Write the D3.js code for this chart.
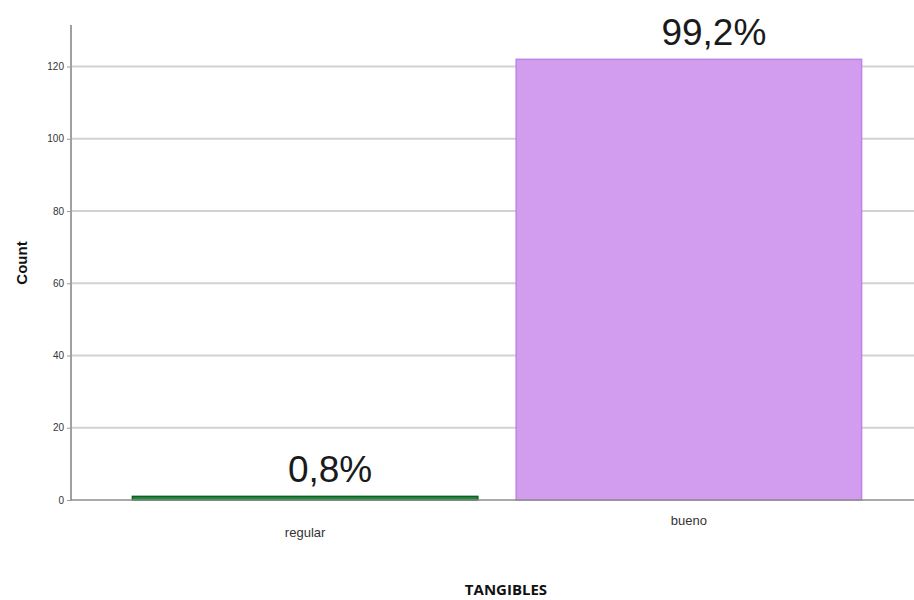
<!DOCTYPE html>
<html>
<head>
<meta charset="utf-8">
<script src="https://cdn.jsdelivr.net/npm/d3@7"></script>
<style>
  html, body { margin: 0; padding: 0; background: #fff; }
  svg { display: block; }
</style>
</head>
<body>
<svg id="chart" width="914" height="600"></svg>
<script>
// Frequency of TANGIBLES ratings
const categories = ["regular", "bueno"];
const counts = [1, 122];
const percentLabels = ["0,8%", "99,2%"];
const barColors = ["#1f8a3b", "#d29cef"];
const barStrokes = ["#0f5f24", "#c183e6"];
const yTicks = [0, 20, 40, 60, 80, 100, 120];
const yMax = 131.5;

const svg = d3.select("#chart");
const axisX = 71, baseY = 500, topY = 25;

const y = d3.scaleLinear().domain([0, yMax]).range([baseY, topY]);
const x = d3.scaleBand().domain(categories).range([71, 923]).paddingInner(0.1).paddingOuter(0.16);

// horizontal gridlines
svg.append("g").selectAll("line").data(yTicks.filter(d => d > 0)).join("line")
  .attr("x1", axisX).attr("x2", 914)
  .attr("y1", d => y(d)).attr("y2", d => y(d))
  .attr("stroke", "#d2d2d2").attr("stroke-width", 2);

// y axis ticks and labels
const yAxis = d3.axisLeft(y).tickValues(yTicks).tickSize(4).tickFormat(d3.format("d"));
const gy = svg.append("g").attr("transform", `translate(${axisX},0)`).call(yAxis);
gy.select(".domain").remove();
gy.selectAll(".tick line").attr("stroke", "#9a9a9a");
gy.selectAll(".tick text")
  .attr("font-family", "Liberation Sans, Arial, sans-serif")
  .attr("font-size", 10).attr("fill", "#333").attr("x", -7);

// bars
svg.append("g").selectAll("rect").data(categories).join("rect")
  .attr("x", d => x(d))
  .attr("width", x.bandwidth())
  .attr("y", (d, i) => y(counts[i]))
  .attr("height", (d, i) => baseY - y(counts[i]))
  .attr("fill", (d, i) => barColors[i])
  .attr("stroke", (d, i) => barStrokes[i])
  .attr("stroke-width", 1.5);

// axis lines
svg.append("line").attr("x1", axisX).attr("x2", axisX).attr("y1", topY).attr("y2", baseY + 1)
  .attr("stroke", "#a0a0a0").attr("stroke-width", 2);
svg.append("line").attr("x1", axisX).attr("x2", 914).attr("y1", baseY).attr("y2", baseY)
  .attr("stroke", "#8c8c8c").attr("stroke-width", 1.5);

// percentage labels above bars
svg.append("g").selectAll("text").data(categories).join("text")
  .attr("x", d => x(d) + x.bandwidth() / 2 + 25)
  .attr("y", (d, i) => y(counts[i]) - 14)
  .attr("text-anchor", "middle")
  .attr("font-family", "Liberation Sans, Arial, sans-serif")
  .attr("font-size", 37).attr("fill", "#1a1a1a")
  .text((d, i) => percentLabels[i]);

// category labels
const catDy = [37, 25];
svg.append("g").selectAll("text").data(categories).join("text")
  .attr("x", d => x(d) + x.bandwidth() / 2)
  .attr("y", (d, i) => baseY + catDy[i])
  .attr("text-anchor", "middle")
  .attr("font-family", "Liberation Sans, Arial, sans-serif")
  .attr("font-size", 13).attr("fill", "#333")
  .text(d => d);

// axis titles
svg.append("text")
  .attr("transform", `translate(27,263) rotate(-90)`)
  .attr("text-anchor", "middle")
  .attr("font-family", "Liberation Sans, Arial, sans-serif")
  .attr("font-weight", "bold").attr("font-size", 15).attr("fill", "#111")
  .text("Count");

svg.append("text")
  .attr("x", 506).attr("y", 595)
  .attr("text-anchor", "middle")
  .attr("font-family", "Open Sans, sans-serif")
  .attr("font-weight", "bold").attr("font-size", 15).attr("fill", "#111")
  .text("TANGIBLES");
</script>
</body>
</html>
